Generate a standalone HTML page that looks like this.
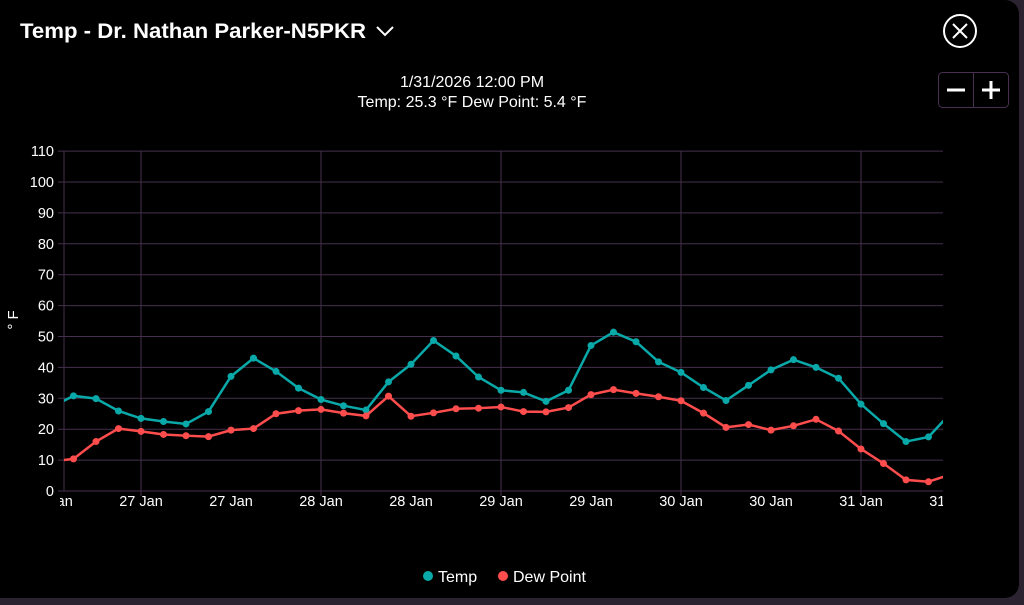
<!DOCTYPE html>
<html><head><meta charset="utf-8"><style>
html,body{margin:0;padding:0;width:1024px;height:605px;background:#2b2430;overflow:hidden}
#p{position:absolute;left:0;top:0;width:1019px;height:598px;background:#000;border-radius:0 14px 14px 0}
svg{position:absolute;left:0;top:0}
text{font-family:"Liberation Sans",sans-serif;fill:#fff}
</style></head><body><div id="p"></div>
<svg width="1024" height="605" viewBox="0 0 1024 605" id="s">
<defs><clipPath id="c"><rect x="64" y="140" width="879" height="355"/></clipPath>
<clipPath id="cx"><rect x="60" y="490" width="883" height="30"/></clipPath></defs>
<text x="20" y="38" font-size="21" font-weight="bold" textLength="346" lengthAdjust="spacingAndGlyphs">Temp - Dr. Nathan Parker-N5PKR</text>
<path d="M377 27 L385 35 L393 27" stroke="#fff" stroke-width="2" fill="none"/>
<circle cx="960" cy="31" r="16" stroke="#fff" stroke-width="2" fill="none"/>
<path d="M953 24 L967 38 M967 24 L953 38" stroke="#fff" stroke-width="2"/>
<rect x="938.5" y="72.5" width="70" height="35" rx="4" fill="none" stroke="#4a3050"/>
<line x1="973.5" y1="72" x2="973.5" y2="108" stroke="#4a3050"/>
<path d="M947 90 H965 M982 90 H1000 M991 81 V99" stroke="#fff" stroke-width="3"/>
<text x="472" y="87" font-size="16" text-anchor="middle">1/31/2026 12:00 PM</text>
<text x="472" y="107" font-size="16" text-anchor="middle">Temp: 25.3 °F  Dew Point: 5.4 °F</text>
<text transform="translate(18,320) rotate(-90)" font-size="15" text-anchor="middle">° F</text>
<g id="g"></g>
<circle cx="428" cy="576" r="5" fill="#0aa9a9"/><text x="438" y="582" font-size="16">Temp</text>
<circle cx="503" cy="576" r="5" fill="#ff4d4d"/><text x="513" y="582" font-size="16">Dew Point</text>
</svg>
<script>
var g=document.getElementById('g'),h='';
function Y(v){return 491-v*3.09}
var GC='#44304d';
for(var v=0;v<=110;v+=10){var y=Y(v);h+='<line x1="58" x2="943" y1="'+y+'" y2="'+y+'" stroke="'+GC+'"/>';h+='<text x="54" y="'+(y+5)+'" font-size="14.5" text-anchor="end">'+v+'</text>';}
h+='<line x1="64" x2="64" y1="151" y2="491" stroke="'+GC+'"/>';
[141,321,501,681,861].forEach(function(x){h+='<line x1="'+x+'" x2="'+x+'" y1="151" y2="496" stroke="'+GC+'"/>'});
h+='<g clip-path="url(#cx)">';
[[51,'27 Jan'],[141,'27 Jan'],[231,'27 Jan'],[321,'28 Jan'],[411,'28 Jan'],[501,'29 Jan'],[591,'29 Jan'],[681,'30 Jan'],[771,'30 Jan'],[861,'31 Jan'],[951,'31 Jan']].forEach(function(a){h+='<text x="'+a[0]+'" y="506" font-size="14.5" text-anchor="middle">'+a[1]+'</text>'});
h+='</g>';
var T=[30.8,29.9,25.9,23.5,22.5,21.7,25.7,37.1,43,38.7,33.3,29.6,27.6,26.2,35.3,41,48.7,43.7,36.9,32.6,31.9,29,32.6,47.1,51.4,48.3,41.8,38.4,33.5,29.3,34.2,39.2,42.5,40,36.5,28.1,21.8,16,17.5,25.3];
var D=[10.4,16,20.2,19.3,18.3,17.9,17.6,19.7,20.2,25,26,26.4,25.2,24.3,30.7,24.2,25.3,26.6,26.8,27.2,25.7,25.6,27,31.2,32.8,31.6,30.5,29.2,25.2,20.6,21.5,19.7,21.1,23.2,19.4,13.6,8.9,3.6,3,5.4];
function ser(a,c,f){var pts=[[50.5,f]];a.forEach(function(v,i){pts.push([73.5+22.5*i,v])});
var s='<g clip-path="url(#c)"><polyline fill="none" stroke="'+c+'" stroke-width="2.5" points="'+pts.map(function(p){return p[0]+','+Y(p[1])}).join(' ')+'"/>';
pts.forEach(function(p,i){if(i>0)s+='<circle cx="'+p[0]+'" cy="'+Y(p[1])+'" r="3.5" fill="'+c+'"/>'});return s+'</g>';}
h+=ser(T,'#0aa9a9',27)+ser(D,'#ff4d4d',9.5);
g.innerHTML=h;
</script>
</body></html>
